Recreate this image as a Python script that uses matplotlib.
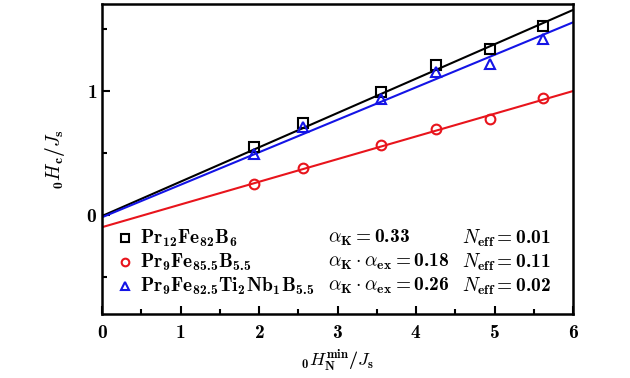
import numpy as np
import matplotlib
matplotlib.use("Agg")
import matplotlib.pyplot as plt
from matplotlib.ticker import MultipleLocator, FuncFormatter

plt.rcParams['mathtext.fontset'] = 'custom'
plt.rcParams['mathtext.rm'] = 'cmb10'
plt.rcParams['mathtext.bf'] = 'cmb10'
plt.rcParams['mathtext.it'] = 'cmmi10'
plt.rcParams['mathtext.fallback'] = 'cm'
plt.rcParams['font.family'] = 'serif'
plt.rcParams['font.serif'] = ['DejaVu Serif']

# data
x_sq = [1.93, 2.56, 3.56, 4.25, 4.94, 5.62]
y_sq = [0.55, 0.74, 0.99, 1.21, 1.34, 1.52]
x_ci = [1.93, 2.56, 3.56, 4.25, 4.94, 5.62]
y_ci = [0.25, 0.38, 0.56, 0.69, 0.77, 0.94]
x_tr = [1.93, 2.56, 3.56, 4.25, 4.94, 5.62]
y_tr = [0.49, 0.71, 0.93, 1.15, 1.22, 1.42]

# fitted lines (slope, intercept)
fit_sq = (0.277, -0.010)
fit_ci = (0.183, -0.100)
fit_tr = (0.262, -0.020)

names = [r'$\mathrm{Pr_{12}Fe_{82}B_6}$',
         r'$\mathrm{Pr_9Fe_{85.5}B_{5.5}}$',
         r'$\mathrm{Pr_9Fe_{82.5}Ti_2Nb_1B_{5.5}}$']
alphas = [r'$\alpha_\mathrm{K}=\mathrm{0.33}$',
          r'$\alpha_\mathrm{K}\cdot\alpha_\mathrm{ex}=\mathrm{0.18}$',
          r'$\alpha_\mathrm{K}\cdot\alpha_\mathrm{ex}=\mathrm{0.26}$']
neffs = [r'$N_\mathrm{eff}=\mathrm{0.01}$',
         r'$N_\mathrm{eff}=\mathrm{0.11}$',
         r'$N_\mathrm{eff}=\mathrm{0.02}$']

fig = plt.figure(figsize=(6.3, 3.78), dpi=100)
ax = fig.add_axes([102/630, 1 - 314/378, 471/630, 310/378])

xx = np.array([0, 6])
series = [
    (x_sq, y_sq, fit_sq, 's', 'black'),
    (x_ci, y_ci, fit_ci, 'o', '#e8141c'),
    (x_tr, y_tr, fit_tr, '^', '#1414e6'),
]
for xs, ys, (m, b), mk, col in series:
    ax.plot(xx, m * xx + b, color=col, lw=1.5, zorder=2)
    ax.plot(xs, ys, mk, mfc='none', mec=col, mew=1.5, ms=7, zorder=3)

ax.set_xlim(0, 6)
ax.set_ylim(-0.8, 1.7)
ax.xaxis.set_major_locator(MultipleLocator(1))
ax.xaxis.set_minor_locator(MultipleLocator(0.5))
ax.yaxis.set_major_locator(MultipleLocator(1))
ax.yaxis.set_minor_locator(MultipleLocator(0.5))
fmt = FuncFormatter(lambda v, p: r'$\mathrm{%d}$' % round(v))
ax.xaxis.set_major_formatter(fmt)
ax.yaxis.set_major_formatter(fmt)
ax.tick_params(which='both', direction='in', width=1.5, labelsize=14)
ax.tick_params(which='major', length=6)
ax.tick_params(which='minor', length=3.5)
ax.tick_params(axis='x', pad=7)
for sp in ax.spines.values():
    sp.set_linewidth(1.8)

ax.set_xlabel(r'$_\mathrm{0}H_\mathrm{N}^\mathrm{min}/J_\mathrm{s}$', fontsize=13, labelpad=5)
ax.set_ylabel(r'$_\mathrm{0}H_\mathrm{c}/J_\mathrm{s}$', fontsize=14, labelpad=14)

# legend block
ys_leg = [238, 262, 286]
for i, (xs, ys, fit, mk, col) in enumerate(series):
    yf = 1 - ys_leg[i] / 378
    ax.plot([125/630], [yf], mk, mfc='none', mec=col, mew=1.5, ms=5.5,
            transform=fig.transFigure, clip_on=False)
    fig.text(140/630, yf, names[i], fontsize=14, va='center')
    fig.text(328/630, yf, alphas[i], fontsize=14, va='center')
    fig.text(462/630, yf, neffs[i], fontsize=14, va='center')

fig.savefig('out.png', dpi=100)
